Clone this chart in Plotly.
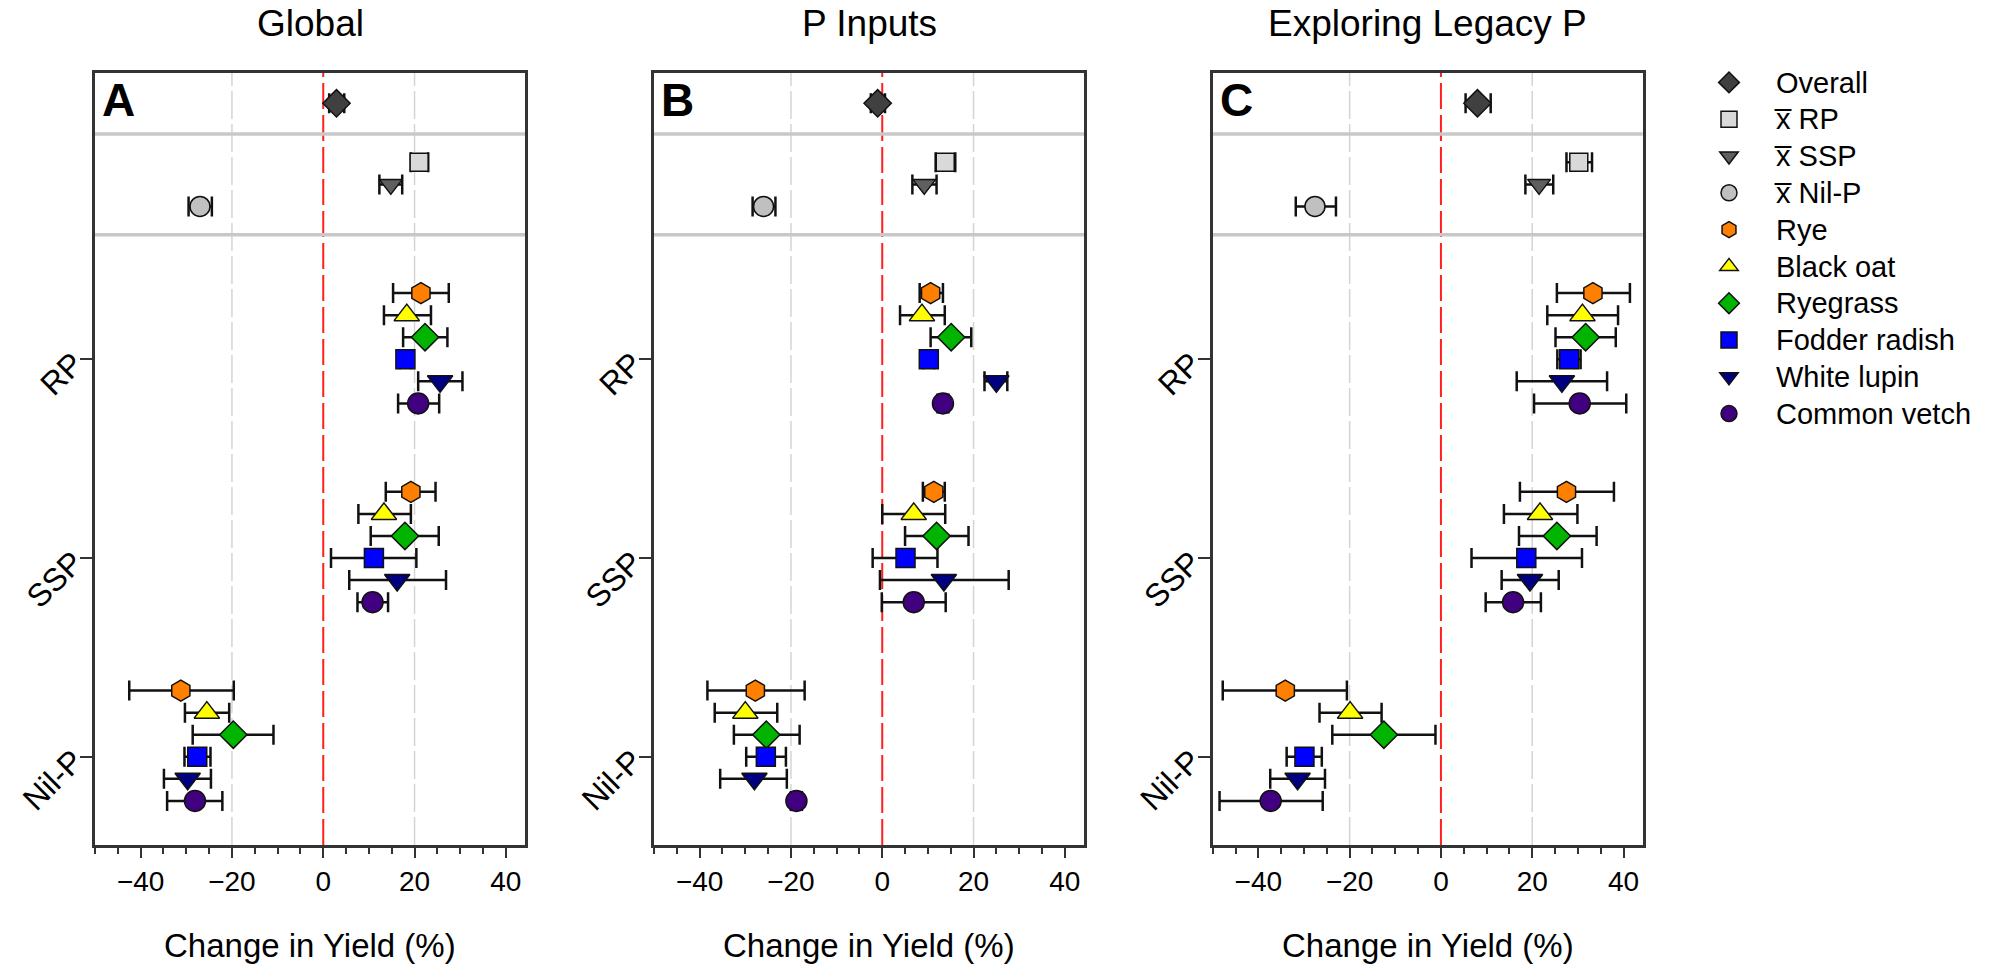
import plotly.graph_objects as go

# ---------------- data ----------------
panels = ["Global", "P Inputs", "Exploring Legacy P"]
panel_letters = ["A", "B", "C"]
levels = ["RP", "SSP", "Nil-P"]
species = ["Rye", "Black oat", "Ryegrass", "Fodder radish", "White lupin", "Common vetch"]
summary_names = ["Overall", "x\u0305 RP", "x\u0305 SSP", "x\u0305 Nil-P"]

# summary rows: Overall, mean RP, mean SSP, mean Nil-P  -> (mean, lower, upper)
A_sum = [2.9, 21.0, 14.8, -27.0]
A_sum_lo = [1.3, 19.2, 12.3, -29.5]
A_sum_hi = [4.6, 23.0, 17.3, -24.4]
B_sum = [-1.0, 13.8, 9.2, -26.0]
B_sum_lo = [-2.5, 11.7, 6.6, -28.4]
B_sum_hi = [0.6, 16.0, 11.9, -23.4]
C_sum = [8.0, 30.2, 21.5, -27.6]
C_sum_lo = [5.4, 27.5, 18.5, -31.8]
C_sum_hi = [10.9, 33.1, 24.6, -23.0]

# species values per level (order = species)
A_rp = [21.4, 18.3, 22.3, 18.0, 25.6, 20.8]
A_rp_lo = [15.3, 13.3, 17.5, 16.8, 20.8, 16.4]
A_rp_hi = [27.5, 23.6, 27.2, 19.2, 30.5, 25.4]
A_ssp = [19.2, 13.3, 17.9, 11.1, 16.2, 10.8]
A_ssp_lo = [13.7, 7.7, 10.4, 1.7, 5.7, 7.5]
A_ssp_hi = [24.6, 19.2, 25.3, 20.4, 26.9, 14.2]
A_nil = [-31.2, -25.5, -19.7, -27.6, -29.7, -28.1]
A_nil_lo = [-42.5, -30.3, -28.6, -30.4, -34.9, -34.2]
A_nil_hi = [-19.6, -20.6, -10.9, -24.7, -24.6, -22.1]

B_rp = [10.6, 8.7, 15.1, 10.2, 25.0, 13.3]
B_rp_lo = [8.2, 3.9, 10.6, 9.0, 22.4, 12.1]
B_rp_hi = [13.3, 13.7, 19.5, 11.4, 27.4, 14.5]
B_ssp = [11.3, 6.9, 11.9, 5.1, 13.5, 6.9]
B_ssp_lo = [8.9, 0.0, 5.0, -2.1, -0.5, -0.1]
B_ssp_hi = [13.7, 13.8, 18.9, 12.1, 27.7, 13.9]
B_nil = [-27.8, -30.0, -25.4, -25.5, -28.0, -18.8]
B_nil_lo = [-38.3, -36.7, -32.5, -29.8, -35.5, -20.0]
B_nil_hi = [-17.0, -23.0, -18.1, -21.1, -20.9, -17.6]

C_rp = [33.3, 31.0, 31.7, 28.1, 26.5, 30.4]
C_rp_lo = [25.4, 23.3, 25.1, 25.5, 16.6, 20.4]
C_rp_hi = [41.4, 38.8, 38.3, 30.6, 36.4, 40.6]
C_ssp = [27.5, 21.7, 25.4, 18.7, 19.5, 15.8]
C_ssp_lo = [17.3, 13.8, 17.1, 6.7, 13.3, 9.8]
C_ssp_hi = [37.9, 29.9, 34.1, 30.9, 25.8, 21.9]
C_nil = [-34.1, -19.9, -12.5, -29.9, -31.4, -37.3]
C_nil_lo = [-47.8, -26.6, -23.8, -33.8, -37.4, -48.5]
C_nil_hi = [-20.6, -13.0, -1.2, -26.1, -25.4, -25.9]

x_ticks = [-40, -20, 0, 20, 40]

# ---------------- styles ----------------
FONT = "Arial, Liberation Sans, sans-serif"
sum_symbols = ["diamond", "square", "triangle-down", "circle"]
sum_colors = ["#404040", "#d9d9d9", "#5f5f5f", "#c0c0c0"]
sum_sizes = [21, 18, 20, 20]
sp_symbols = ["hexagon", "triangle-up", "diamond", "square", "triangle-down", "circle"]
sp_colors = ["#ff8000", "#ffff00", "#00b400", "#0000ff", "#000080", "#400080"]
sp_sizes = [21, 22, 21, 19, 22, 21]

W, H = 2003, 966
x_px = [(95, 525), (654, 1084), (1212.7, 1642.7)]
y_top_px, y_bot_px = 72.7, 845
X_RANGE = [-50, 44.2]
Y_RANGE = [-0.444, 3.442]
STEP = 0.111           # vertical offset between species within a level
DIV_LOW, DIV_HIGH = 2.626, 3.134


def legend_label(txt):
    return '<span style="font-size:29px">' + txt + "</span>"


panel_data = [
    (A_sum, A_sum_lo, A_sum_hi, [(A_rp, A_rp_lo, A_rp_hi), (A_ssp, A_ssp_lo, A_ssp_hi), (A_nil, A_nil_lo, A_nil_hi)]),
    (B_sum, B_sum_lo, B_sum_hi, [(B_rp, B_rp_lo, B_rp_hi), (B_ssp, B_ssp_lo, B_ssp_hi), (B_nil, B_nil_lo, B_nil_hi)]),
    (C_sum, C_sum_lo, C_sum_hi, [(C_rp, C_rp_lo, C_rp_hi), (C_ssp, C_ssp_lo, C_ssp_hi), (C_nil, C_nil_lo, C_nil_hi)]),
]

level_pos = {"RP": 2, "SSP": 1, "Nil-P": 0}
mid_means = (DIV_LOW + DIV_HIGH) / 2
sum_y = [(DIV_HIGH + Y_RANGE[1]) / 2, mid_means + STEP, mid_means, mid_means - STEP]

fig = go.Figure()
ERR = dict(type="data", symmetric=False, color="#111111", thickness=2.5, width=10)

for p, (s, slo, shi, lv) in enumerate(panel_data):
    xa = "x" if p == 0 else f"x{p+1}"
    ya = "y" if p == 0 else f"y{p+1}"
    for k in range(4):
        fig.add_trace(go.Scatter(
            x=[s[k]], y=[sum_y[k]], mode="markers", xaxis=xa, yaxis=ya,
            name=legend_label(summary_names[k]), showlegend=(p == 0),
            marker=dict(symbol=sum_symbols[k], color=sum_colors[k], size=sum_sizes[k],
                        line=dict(color="#111111", width=1.5)),
            error_x=dict(ERR, array=[shi[k] - s[k]], arrayminus=[s[k] - slo[k]]),
        ))
    for i, sp in enumerate(species):
        xs, ys, ep, em = [], [], [], []
        for j, lvl in enumerate(levels):
            m, lo, hi = lv[j]
            xs.append(m[i])
            ys.append(level_pos[lvl] + (3 - i) * STEP)
            ep.append(hi[i] - m[i])
            em.append(m[i] - lo[i])
        fig.add_trace(go.Scatter(
            x=xs, y=ys, mode="markers", xaxis=xa, yaxis=ya,
            name=legend_label(sp), showlegend=(p == 0),
            marker=dict(symbol=sp_symbols[i], color=sp_colors[i], size=sp_sizes[i],
                        line=dict(color="#111111", width=1.5)),
            error_x=dict(ERR, array=ep, arrayminus=em),
        ))

layout = dict(
    width=W, height=H,
    margin=dict(l=0, r=0, t=0, b=0),
    paper_bgcolor="white", plot_bgcolor="white",
    font=dict(family=FONT, color="black"),
    showlegend=True,
    legend=dict(x=1682 / W, y=1 - 59 / H, xanchor="left", yanchor="top",
                font=dict(size=26, family=FONT), bgcolor="rgba(0,0,0,0)",
                itemwidth=84, tracegroupgap=0),
)
shapes, annotations = [], []
ydom = [1 - y_bot_px / H, 1 - y_top_px / H]
for p in range(3):
    suf = "" if p == 0 else str(p + 1)
    xa, ya = "x" + suf, "y" + suf
    layout["xaxis" + suf] = dict(
        domain=[x_px[p][0] / W, x_px[p][1] / W], anchor=ya, range=X_RANGE,
        tickvals=x_ticks, ticks="outside", ticklen=10, tickwidth=2, tickcolor="#333333",
        minor=dict(dtick=5, tick0=0, ticks="outside", ticklen=6, tickwidth=2, tickcolor="#333333"),
        showgrid=False, zeroline=False, showline=True, linecolor="#333333", linewidth=2.5,
        mirror=True, tickfont=dict(size=28, family=FONT), fixedrange=True,
    )
    layout["yaxis" + suf] = dict(
        domain=ydom, anchor=xa, range=Y_RANGE,
        tickvals=[level_pos[l] for l in levels], ticktext=levels, tickangle=-45,
        ticks="outside", ticklen=12, tickwidth=2, tickcolor="#333333",
        showgrid=False, zeroline=False, showline=True, linecolor="#333333", linewidth=2.5,
        mirror=True, tickfont=dict(size=32, family=FONT), fixedrange=True,
    )
    for gx in (-20, 20):
        shapes.append(dict(type="line", xref=xa, yref=ya + " domain", x0=gx, x1=gx, y0=0, y1=1,
                           line=dict(color="#d4d4d4", width=1.5, dash="28px,5px"), layer="below"))
    shapes.append(dict(type="line", xref=xa, yref=ya + " domain", x0=0, x1=0, y0=0, y1=1,
                       line=dict(color="#ff2020", width=2, dash="26px,6px"), layer="below"))
    for dy in (DIV_LOW, DIV_HIGH):
        shapes.append(dict(type="line", xref=xa + " domain", yref=ya, x0=0, x1=1, y0=dy, y1=dy,
                           line=dict(color="#c8c8c8", width=3.5), layer="below"))
    annotations.append(dict(text=panels[p], xref="paper", yref="paper",
                            x=(x_px[p][0] + x_px[p][1]) / 2 / W, y=1 - 23 / H,
                            xanchor="center", yanchor="middle", showarrow=False,
                            font=dict(size=37, family=FONT)))
    annotations.append(dict(text="<b>" + panel_letters[p] + "</b>", xref="paper", yref="paper",
                            x=(x_px[p][0] + 5) / W, y=1 - 100 / H,
                            xanchor="left", yanchor="middle", showarrow=False,
                            font=dict(size=46, family=FONT)))
    annotations.append(dict(text="Change in Yield (%)", xref="paper", yref="paper",
                            x=(x_px[p][0] + x_px[p][1]) / 2 / W, y=1 - 945 / H,
                            xanchor="center", yanchor="middle", showarrow=False,
                            font=dict(size=33, family=FONT)))

layout["shapes"] = shapes
layout["annotations"] = annotations
fig.update_layout(**layout)
fig.write_html(
    "out.html",
    config={"displayModeBar": False},
    post_script="document.body.style.margin='0';document.body.style.overflow='hidden';",
)
